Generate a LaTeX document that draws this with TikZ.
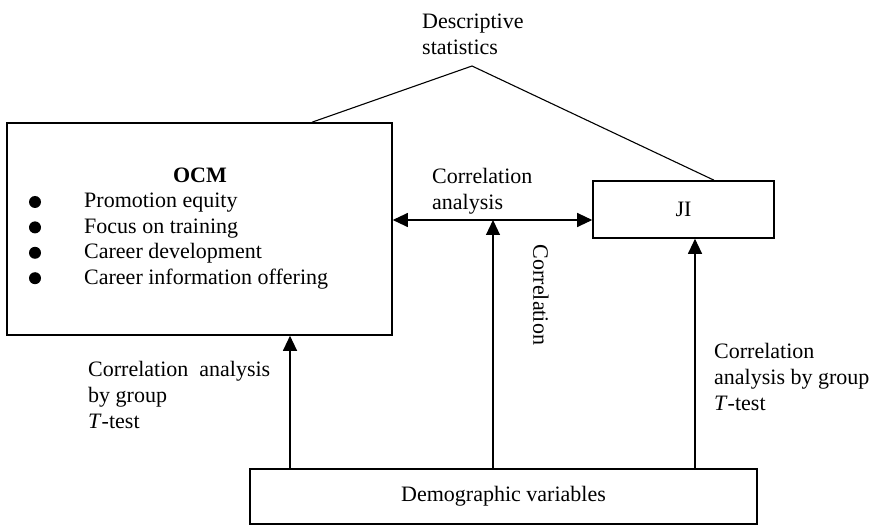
\documentclass[tikz,border=0pt]{standalone}
\usepackage{fontspec}
\setmainfont{Liberation Serif}
\usetikzlibrary{positioning}
\usetikzlibrary{arrows.meta}

\begin{document}
\begin{tikzpicture}[x=1pt, y=-1pt,
    every node/.style={font=\fontsize{22}{26}\selectfont},
    box/.style={draw, line width=1.6pt, inner sep=0pt},
    link/.style={line width=1.1pt},
    arr/.style={link, -{Triangle[length=15pt,width=14pt]}},
    dbl/.style={link, {Triangle[length=15pt,width=14pt]}-{Triangle[length=15pt,width=14pt]}},
    lbl/.style={anchor=north west, align=left, inner sep=0pt},
    dot/.style={circle, fill, inner sep=0pt, minimum size=12pt}]
    \useasboundingbox (0,0) rectangle (877,526);

    % Boxes
    \node[box, minimum width=385pt, minimum height=212pt] (ocm) at (199.5,229) {};
    \node[box, minimum width=181pt, minimum height=57pt] (ji) at (683.5,209.5) {JI};
    \node[box, minimum width=507pt, minimum height=55pt] (demo) at (503.5,496.5) {Demographic variables};

    % OCM contents
    \node[inner sep=0pt] (ocmtitle) at (200,175) {\bfseries OCM};
    \foreach \t [count=\i] in {Promotion equity, Focus on training, Career development, Career information offering} {
        \node[anchor=base west, inner sep=0pt] (item\i) at (84,{208+25.4*(\i-1)}) {\t};
        \node[dot] (bul\i) at (35,{202+25.4*(\i-1)}) {};
    }

    % Descriptive statistics
    \node[lbl] (desc) at (422,14) {Descriptive\\statistics};
    \coordinate (peak) at (472,66);
    \coordinate (xa) at (312,0);
    \coordinate (xb) at (714,0);
    \draw[link] (ocm.north -| xa) -- (peak) -- (ji.north -| xb);

    % Correlation analysis between OCM and JI
    \coordinate (yh) at (0,220);
    \draw[dbl] (ocm.east |- yh) -- (ji.west |- yh);
    \node[lbl] (corra) at (432,168) {Correlation\\analysis};

    % Arrows from demographic variables
    \coordinate (xl) at (290,0);
    \coordinate (xm) at (493,0);
    \coordinate (xr) at (695,0);
    \draw[arr] (demo.north -| xl) -- (ocm.south -| xl);
    \draw[arr] (demo.north -| xm) -- (xm |- yh);
    \draw[arr] (demo.north -| xr) -- (ji.south -| xr);

    % Labels on the arrows
    \node[lbl] (lefttxt) at (88,361) {Correlation \ analysis\\by group\\\textit{T}-test};
    \node[rotate=-90, inner sep=0pt] (midtxt) at (541,295) {Correlation};
    \node[lbl] (righttxt) at (714,343) {Correlation\\analysis by group\\\textit{T}-test};
\end{tikzpicture}
\end{document}
